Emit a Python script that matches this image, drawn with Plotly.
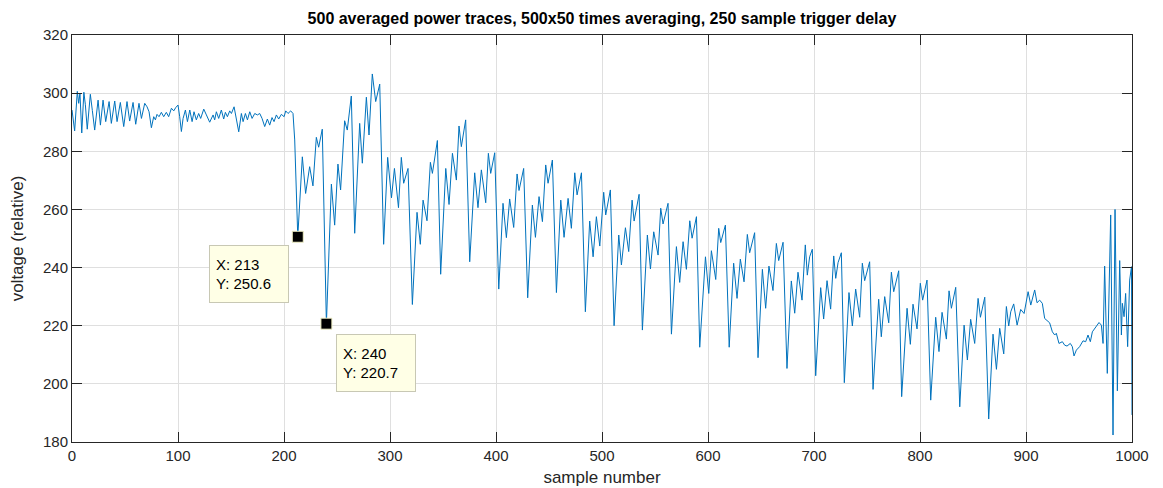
import plotly.graph_objects as go

# sample index of each read vertex
sample_x = [
    0, 2.5, 5.0, 6.3, 7.5, 9.2, 11.2, 12.6, 14.4, 17.3, 19.2, 21.4, 24.6, 26.8, 29.3, 31.8, 35.0, 37.1, 40.3, 42.5,
    45.6, 48.8, 51.9, 54.4, 57.6, 60.1, 63.2, 65.5, 68.6, 70.8, 72.7, 74.9, 77.1, 78.7, 80.2, 82.1, 84.3, 86.5, 89.0, 91.2,
    93.8, 96.0, 97.8,
    100.0, 101.6, 103.2, 104.8, 107.0, 108.9, 111.1, 113.3, 115.1, 117.3, 119.5, 121.4, 124.3, 126.8, 129.9, 133.1, 134.6,
    136.2, 138.4, 140.9, 143.1, 144.7, 146.6, 148.8, 150.4, 152.9, 155.1, 157.3, 159.8, 161.4, 163.6, 165.5, 167.7, 169.9,
    172.4, 174.9, 177.1, 179.3, 181.8, 184.3, 186.5, 188.7, 190.6, 192.8, 195.0, 197.5, 200.1, 201.6, 203.8, 206.3, 208.5,
    210.1,
    213, 217.3, 220.4, 224.2, 227.3, 230.5, 232.7, 236.1, 240, 244.7, 247.8, 250.9, 253.4, 257.2, 259.7, 263.5, 266.7,
    271.4, 273.9, 277.7, 280.2, 283.3, 286.5, 290.3, 294.0, 297.8, 301.4, 304.2, 308.0, 310.7, 312.9, 317.0, 321.1,
    325.5, 328.6, 331.2, 334.9, 338.1, 340.0, 342.2, 344.7, 347.8, 352.6, 355.7, 358.9, 362.6, 365.1, 367.3, 371.4, 375.2,
    379.9, 383.0, 386.2, 390.3, 392.8, 395.0, 398.8, 402.6,
    406.6, 409.8, 412.9, 416.7, 419.9, 421.7, 423.9, 426.1, 429.9, 434.3, 437.2, 440.6, 443.8, 446.9, 449.1, 453.2, 457.0,
    461.1, 464.2, 468.0, 471.1, 474.3, 476.5, 480.6, 484.3, 488.4, 491.6, 494.7, 497.9, 501.6, 503.5, 507.9, 511.4,
    515.8, 518.3, 522.1, 525.2, 528.4, 530.3, 535.0, 538.1, 542.8, 545.7, 548.8, 552.9, 555.4, 557.6, 562.3, 565.5, 570.2,
    573.3, 576.5, 579.6, 582.8, 585.0, 589.1, 592.2, 597.6, 600.7, 603.2, 607.3, 610.1, 612.0, 616.4, 620.0,
    624.2, 627.4, 630.5, 634.0, 637.1, 639.3, 644.0, 647.2, 651.3, 654.4, 657.5, 661.3, 664.5, 666.7, 670.8, 674.5, 678.6,
    681.8, 684.9, 688.7, 691.8, 693.7, 695.9, 698.4, 701.6, 706.3, 709.1, 712.3, 715.7,
    718.6, 720.5, 722.7, 725.8, 728.6, 733.0, 736.2, 739.3, 743.1, 745.6, 747.8, 752.5, 755.7, 761.0, 763.5, 766.7, 770.5,
    773.0, 775.2, 779.9, 782.7, 787.8, 790.9, 793.4, 797.2, 800.3, 802.5, 806.6, 810.1, 814.8, 817.9, 820.8, 824.9,
    827.4, 829.6, 833.7, 837.5, 841.6, 844.7, 847.8, 851.6, 854.8, 857.0, 861.1, 864.8, 868.9, 872.1, 875.2, 879.0, 881.5,
    883.7, 885.6, 888.4, 891.6, 895.0, 898.2, 902.0, 904.5, 908.2, 910.4, 912.9,
    915.4, 917.6, 919.8, 922.3, 924.9, 927.1, 928.6, 931.1, 934.3, 936.5, 938.7, 941.8, 943.7, 945.3, 947.5, 950.6, 953.8,
    956.3, 958.5, 960.7, 962.6, 964.8, 966.4, 968.9, 971.1, 972.7, 974.2, 976.7, 979.9, 982.1, 984.0, 986.2, 988.4, 990.0,
    990.9, 992.5, 994.0, 995.9, 997.8, 999.5, 1000,
]

# relative voltage at each vertex
voltage = [
    294.2, 287.0, 300.6, 296.5, 300.0, 286.3, 300.3, 296.0, 287.6, 299.6, 294.0, 287.3, 297.6, 289.0, 297.6, 290.2, 297.1,
    289.6, 297.3, 290.2, 296.8, 288.5, 297.1, 290.4, 296.8, 289.3, 296.5, 291.3, 296.5, 295.3, 293.6, 288.1, 291.9, 290.8,
    292.7, 291.9, 293.4, 291.9, 293.4, 291.9, 294.8, 293.9, 295.0,
    295.9, 291.9, 286.8, 291.3, 294.2, 290.2, 294.2, 290.2, 293.6, 290.8, 293.0, 291.3, 294.5, 292.5, 290.0, 292.5, 290.8,
    293.6, 291.3, 294.2, 291.1, 293.4, 291.9, 293.9, 293.0, 295.3, 290.8, 286.7, 293.0, 290.2, 293.0, 290.8, 293.6, 291.3,
    293.0, 292.5, 293.0, 291.3, 288.5, 291.1, 289.0, 291.6, 290.2, 292.5, 291.1, 292.7, 291.9, 293.9, 293.0, 293.9, 293.0,
    283.9,
    250.6, 278.1, 265.5, 274.7, 268.1, 284.8, 281.4, 287.6, 220.7, 268.7, 254.6, 275.6, 266.7, 290.5, 287.3, 299.0, 251.8,
    289.6, 275.9, 298.6, 285.6, 306.6, 297.1, 303.1, 248.0, 277.9, 264.0, 274.1, 260.6, 277.9, 269.0, 274.1, 227.3,
    259.0, 248.0, 263.2, 256.1, 276.2, 272.4, 277.0, 283.7, 237.7, 274.1, 261.7, 279.3, 270.1, 288.7, 281.6, 290.8, 242.0,
    272.6, 260.6, 273.6, 262.3, 279.3, 272.4, 279.5, 232.6,
    262.1, 250.3, 263.6, 253.8, 272.2, 266.5, 270.7, 274.1, 229.6, 261.5, 250.4, 264.4, 255.8, 275.3, 269.0, 277.0, 231.4,
    263.2, 250.4, 263.8, 253.5, 272.6, 265.0, 272.6, 224.8, 256.0, 243.7, 257.5, 247.4, 265.9, 258.1, 266.7, 220.0,
    251.2, 240.9, 253.7, 245.5, 263.2, 256.0, 265.2, 218.5, 251.2, 239.5, 252.3, 244.3, 260.4, 255.0, 262.1, 217.1, 247.2,
    234.9, 248.9, 239.4, 256.1, 250.1, 257.5, 212.6, 243.7, 231.1, 245.8, 235.9, 253.5, 248.6, 254.6, 212.6,
    241.5, 229.4, 242.9, 235.1, 251.4, 245.1, 252.0, 209.0, 239.4, 226.0, 240.5, 232.1, 248.3, 242.4, 248.7, 205.3, 235.4,
    224.3, 238.4, 228.8, 247.8, 237.4, 243.7, 246.3, 202.8, 233.1, 222.3, 235.5, 225.7,
    244.0, 236.3, 241.7, 245.1, 200.4, 231.4, 219.9, 232.6, 222.9, 241.5, 235.5, 242.0, 198.1, 229.1, 216.2, 230.0, 221.0,
    238.4, 231.7, 238.9, 195.6, 226.0, 213.6, 227.4, 218.9, 234.6, 228.8, 235.7, 194.4, 222.9, 211.1, 224.6, 215.4,
    232.0, 226.0, 233.2, 192.1, 220.2, 208.2, 222.2, 213.9, 229.4, 222.9, 229.8, 187.9, 217.1, 205.0, 219.1, 210.3, 226.6,
    219.9, 224.8, 227.5, 220.2, 225.6, 224.2, 231.7, 227.1, 232.3, 227.9, 228.8,
    227.7, 222.5, 221.7, 221.0, 217.9, 216.8, 217.4, 213.9, 214.5, 213.3, 213.0, 213.9, 212.8, 209.6, 211.6, 212.8, 214.8,
    214.5, 216.8, 214.5, 217.9, 219.1, 219.9, 221.1, 220.2, 213.9, 240.5, 203.6, 258.1, 182.4, 260.0, 197.6, 242.4, 216.8,
    227.7, 223.1, 231.1, 212.8, 235.7, 240.3, 189.3,
]

tip_x = [213, 240]
tip_y = [250.6, 220.7]
tip_offset_x = [-49, 50]
tip_offset_y = [37, 39]

x_ticks = list(range(0, 1001, 100))
y_ticks = list(range(180, 321, 20))

title_text = "500 averaged power traces, 500x50 times averaging, 250 sample trigger delay"

FONT = "Arial, Liberation Sans, Helvetica, sans-serif"
AX = "#262626"
GRID = "#dfdfdf"

fig = go.Figure()
fig.add_trace(go.Scatter(
    x=sample_x, y=voltage, mode="lines",
    line=dict(color="#0072BD", width=1),
    hoverinfo="skip", showlegend=False,
))
fig.add_trace(go.Scatter(
    x=tip_x, y=tip_y, mode="markers",
    marker=dict(symbol="square", size=11, color="black",
                line=dict(color="#f2f2c8", width=1)),
    hoverinfo="skip", showlegend=False,
))

for tx, ty, ox, oy in zip(tip_x, tip_y, tip_offset_x, tip_offset_y):
    fig.add_annotation(
        x=tx, y=ty, xref="x", yref="y",
        text=f"X: {tx}<br>Y: {ty}",
        showarrow=True, arrowcolor="rgba(0,0,0,0)", arrowwidth=0.1,
        ax=ox, ay=oy, xanchor="center", yanchor="middle",
        align="left", width=66, height=44,
        bgcolor="#ffffe6", bordercolor="#c8c8b4", borderwidth=1, borderpad=6,
        font=dict(family=FONT, size=15, color="black"),
    )

fig.update_layout(
    width=1163, height=488,
    margin=dict(l=72, r=31, t=35, b=46),
    paper_bgcolor="white", plot_bgcolor="white",
    font=dict(family=FONT, color=AX),
    title=dict(text=f"<b>{title_text}</b>", x=0.5176, xanchor="center",
               y=0.962, yanchor="middle",
               font=dict(family=FONT, size=16, color="black")),
)
fig.update_xaxes(
    range=[0, 1000], tickvals=x_ticks, ticktext=[str(v) for v in x_ticks],
    showgrid=True, gridcolor=GRID, gridwidth=1, zeroline=False,
    showline=True, linecolor=AX, linewidth=1, mirror="ticks",
    ticks="inside", ticklen=10, tickcolor=AX, automargin=False,
    tickfont=dict(family=FONT, size=15, color=AX),
    title=dict(text="sample number", font=dict(family=FONT, size=17, color=AX), standoff=8),
)
fig.update_yaxes(
    range=[180, 320], tickvals=y_ticks, ticktext=[str(v) for v in y_ticks],
    showgrid=True, gridcolor=GRID, gridwidth=1, zeroline=False,
    showline=True, linecolor=AX, linewidth=1, mirror="ticks",
    ticks="inside", ticklen=10, tickcolor=AX, automargin=False,
    tickfont=dict(family=FONT, size=15, color=AX),
    title=dict(text="voltage (relative)", font=dict(family=FONT, size=17, color=AX), standoff=15),
)

fig.write_html("out.html")
